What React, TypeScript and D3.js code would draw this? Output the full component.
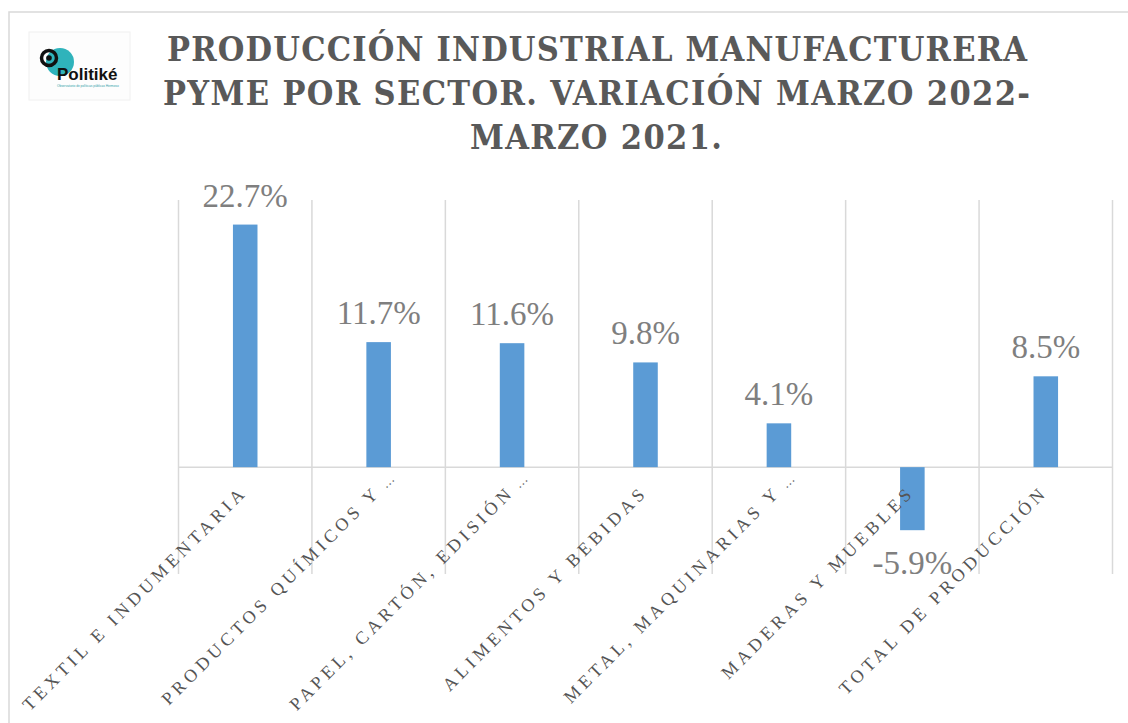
import React from "react";
import * as d3 from "d3";

const categories = [
  "TEXTIL E INDUMENTARIA",
  "PRODUCTOS QUÍMICOS Y …",
  "PAPEL, CARTÓN, EDISIÓN …",
  "ALIMENTOS Y BEBIDAS",
  "METAL, MAQUINARIAS Y …",
  "MADERAS Y MUEBLES",
  "TOTAL DE PRODUCCIÓN",
];
const values = [22.7, 11.7, 11.6, 9.8, 4.1, -5.9, 8.5];
const titleLines = [
  "PRODUCCIÓN INDUSTRIAL MANUFACTURERA",
  "PYME POR SECTOR. VARIACIÓN MARZO 2022-",
  "MARZO 2021.",
];
const yDomain = [-10, 25];

const W = 1128;
const H = 723;

export default function App() {
  const x = d3
    .scaleBand<string>()
    .domain(categories)
    .range([178.5, 1112.5])
    .paddingInner(0.816)
    .paddingOuter(0.408);
  const y = d3.scaleLinear().domain(yDomain).range([574, 200]);
  const step = x.step();
  const x0 = 178.5;
  const y0 = y(0);
  const serif = "'Liberation Serif', 'DejaVu Serif', serif";
  const fmt = (v: number) => d3.format(".1f")(v).replace("−", "-") + "%";

  const titleGeom = [
    { x1: 167, x2: 1027, y: 61 },
    { x1: 163, x2: 1030, y: 105 },
    { x1: 470, x2: 722, y: 149 },
  ];

  return (
    <svg
      width={W}
      height={H}
      style={{ position: "absolute", left: 0, top: 0, background: "#fff" }}
    >
      <rect x={9} y={12} width={1130} height={730} fill="#fff" stroke="#d9d9d9" strokeWidth={1.5} />

      {/* logo */}
      <g>
        <rect x={29} y={32} width={101} height={68} fill="#fdfdfd" stroke="#f0f0f0" />
        <circle cx={60} cy={62} r={14} fill="#2fb3bb" />
        <circle cx={49} cy={58} r={7.5} fill="none" stroke="#111" strokeWidth={3.5} />
        <circle cx={49} cy={58} r={2.8} fill="#111" />
        <text x={57} y={80} fontFamily="Arial, 'Liberation Sans', sans-serif" fontWeight="bold" fontSize={17} fill="#111">
          Politiké
        </text>
        <text x={57} y={87} fontFamily="'Liberation Sans', sans-serif" fontSize={3.2} fill="#2fa0a8">
          Observatorio de políticas públicas Hermoso
        </text>
      </g>

      {/* title */}
      {titleLines.map((t, i) => (
        <text
          key={i}
          x={titleGeom[i].x1}
          y={titleGeom[i].y}
          textLength={titleGeom[i].x2 - titleGeom[i].x1}
          lengthAdjust="spacing"
          fontFamily="'DejaVu Serif', serif"
          fontStretch="condensed"
          fontWeight="bold"
          fontSize={34}
          fill="#595959"
        >
          {t}
        </text>
      ))}

      {/* vertical gridlines */}
      {d3.range(categories.length + 1).map((i) => (
        <line
          key={i}
          x1={x0 + i * step}
          x2={x0 + i * step}
          y1={y(yDomain[1])}
          y2={y(yDomain[0])}
          stroke="#d9d9d9"
          strokeWidth={1.5}
        />
      ))}
      <line x1={x0} x2={x0 + categories.length * step} y1={y0} y2={y0} stroke="#d9d9d9" strokeWidth={1.5} />

      {/* bars */}
      {categories.map((c, i) => {
        const v = values[i];
        return (
          <rect
            key={c}
            x={x(c)}
            width={x.bandwidth()}
            y={Math.min(y(v), y0)}
            height={Math.abs(y(v) - y0)}
            fill="#5b9bd5"
          />
        );
      })}

      {/* data labels */}
      {categories.map((c, i) => {
        const v = values[i];
        const cx = (x(c) as number) + x.bandwidth() / 2;
        const ty = v >= 0 ? y(v) - 18 : y(v) + 44;
        return (
          <text key={c} x={cx} y={ty} textAnchor="middle" fontFamily={serif} fontSize={33} fill="#7f7f7f">
            {fmt(v)}
          </text>
        );
      })}

      {/* category labels */}
      {categories.map((c) => {
        const cx = (x(c) as number) + x.bandwidth() / 2 + 3;
        const cy = y0 + 26;
        const truncated = c.endsWith("…");
        const main = truncated ? c.slice(0, -2) : c;
        return (
          <g key={c} transform={`translate(${cx},${cy}) rotate(-45)`}>
            <text
              textAnchor="end"
              fontFamily={serif}
              fontSize={18}
              letterSpacing={4.2}
              fill="#555"
            >
              {main}
            </text>
            {truncated && (
              <text x={6} fontFamily={serif} fontSize={13} letterSpacing={0} fill="#555">
                …
              </text>
            )}
          </g>
        );
      })}
    </svg>
  );
}
